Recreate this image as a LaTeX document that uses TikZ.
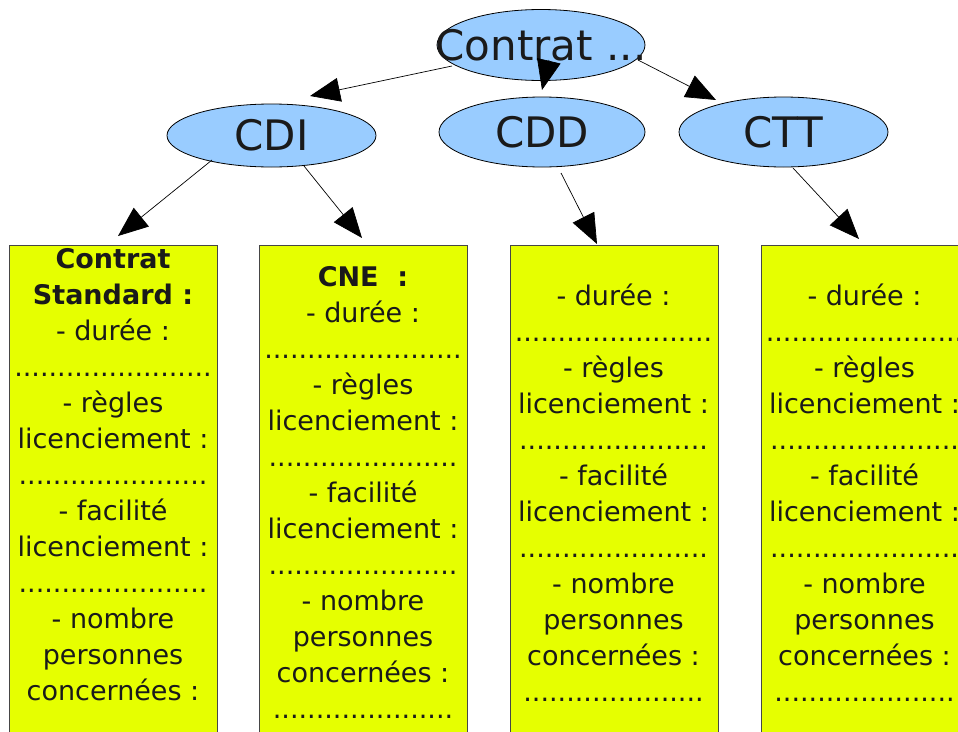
\documentclass[tikz,border=0pt]{standalone}
\usepackage{fontspec}
\setmainfont{DejaVu Sans}
\usetikzlibrary{arrows.meta,shapes.geometric}
\definecolor{ellfill}{RGB}{153,204,255}
\definecolor{boxfill}{RGB}{230,255,0}
\definecolor{boxline}{RGB}{70,70,70}
\definecolor{txt}{RGB}{26,26,26}
\begin{document}
\begin{tikzpicture}[x=1pt,y=-1pt,
 ell/.style={ellipse,draw=black,line width=0.8pt,fill=ellfill,inner sep=0pt,text=txt,font=\fontsize{42}{50}\selectfont},
 panel/.style={rectangle,draw=boxline,line width=1pt,fill=boxfill,minimum width=208pt,minimum height=560pt,anchor=north west,inner sep=0pt},
 paneltext/.style={align=center,anchor=north,inner sep=0pt,text=txt,font=\fontsize{27}{36}\selectfont},
 arr/.style={draw=black,line width=0.7pt,-{Triangle[length=30pt,width=24pt]}}]
\useasboundingbox (0,0) rectangle (958,731);
\clip (0,0) rectangle (958,731);

\node[ell,minimum width=208pt,minimum height=71pt] (contrat) at (541,45) {\makebox[0pt]{Contrat ...}};
\node[ell,minimum width=209pt,minimum height=63pt] (cdi) at (271.5,135.5) {\makebox[0pt]{CDI}};
\node[ell,minimum width=206pt,minimum height=70pt] (cdd) at (542,132) {\makebox[0pt]{CDD}};
\node[ell,minimum width=209pt,minimum height=70pt] (ctt) at (783.5,132) {\makebox[0pt]{CTT}};

\node[panel] (p1) at (9,245) {};
\node[panel] (p2) at (259,245) {};
\node[panel] (p3) at (510,245) {};
\node[panel] (p4) at (761,245) {};

\node[paneltext] (t1) at (113,248.5) {\textbf{Contrat}\\\textbf{Standard :}\\- durée :\\.......................\\- règles\\licenciement :\\......................\\- facilité\\licenciement :\\......................\\- nombre\\personnes\\concernées :};
\node[paneltext] (t2) at (363,266) {\textbf{CNE\ \ :}\\- durée :\\.......................\\- règles\\licenciement :\\......................\\- facilité\\licenciement :\\......................\\- nombre\\personnes\\concernées :\\.....................};
\node[paneltext] (t3) at (613.5,284) {- durée :\\.......................\\- règles\\licenciement :\\......................\\- facilité\\licenciement :\\......................\\- nombre\\personnes\\concernées :\\.....................};
\node[paneltext] (t4) at (864.5,284) {- durée :\\.......................\\- règles\\licenciement :\\......................\\- facilité\\licenciement :\\......................\\- nombre\\personnes\\concernées :\\.....................};

\draw[arr] ([shift={(-89,21)}]contrat.center) -- ([shift={(38.5,-39.5)}]cdi.center);
\draw[arr] ([shift={(8,15)}]contrat.center) -- ([shift={(0,-42)}]cdd.center);
\draw[arr] ([shift={(97,15)}]contrat.center) -- ([shift={(-67.5,-32)}]ctt.center);
\draw[arr] ([shift={(-59.5,24.5)}]cdi.center) -- ([shift={(109,-9)}]p1.north west);
\draw[arr] ([shift={(32.5,30.5)}]cdi.center) -- ([shift={(103,-7)}]p2.north west);
\draw[arr] ([shift={(19,41)}]cdd.center) -- ([shift={(87,-1)}]p3.north west);
\draw[arr] ([shift={(9.5,36)}]ctt.center) -- ([shift={(98,-6)}]p4.north west);
\end{tikzpicture}
\end{document}
